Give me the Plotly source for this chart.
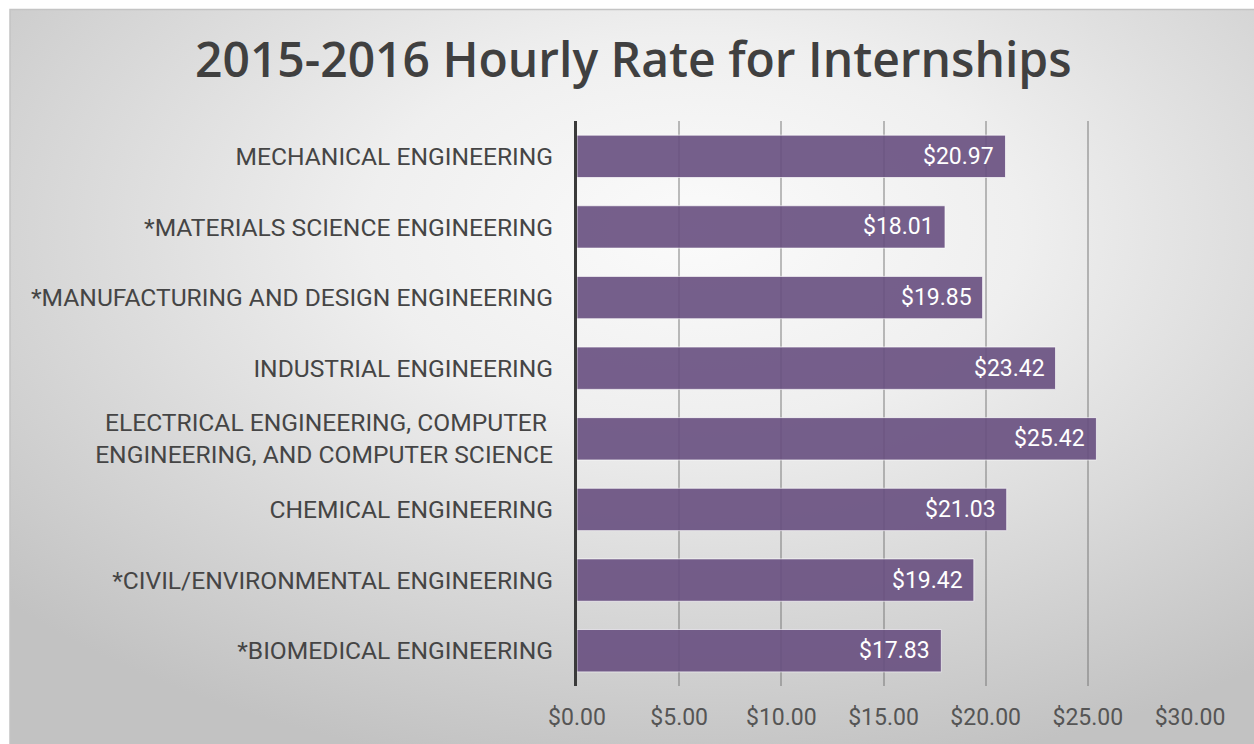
import base64
import plotly.graph_objects as go

categories = [
    "MECHANICAL ENGINEERING",
    "*MATERIALS SCIENCE ENGINEERING",
    "*MANUFACTURING AND DESIGN ENGINEERING",
    "INDUSTRIAL ENGINEERING",
    "ELECTRICAL ENGINEERING, COMPUTER <br>ENGINEERING, AND COMPUTER SCIENCE",
    "CHEMICAL ENGINEERING",
    "*CIVIL/ENVIRONMENTAL ENGINEERING",
    "*BIOMEDICAL ENGINEERING",
]
rates = [20.97, 18.01, 19.85, 23.42, 25.42, 21.03, 19.42, 17.83]
tick_values = [0, 5, 10, 15, 20, 25, 30]
tick_labels = ["$0.00", "$5.00", "$10.00", "$15.00", "$20.00", "$25.00", "$30.00"]

W, H = 1254, 744
ML, MR, MT, MB = 577, 64, 121, 58
pw, ph = W - ML - MR, H - MT - MB

svg = """<svg xmlns='http://www.w3.org/2000/svg' width='1244' height='735' viewBox='0 0 1244 735' preserveAspectRatio='none'>
<defs><radialGradient id='g' cx='0.55' cy='0.3' r='0.75' gradientUnits='objectBoundingBox'>
<stop offset='0' stop-color='#fbfbfb'/><stop offset='0.35' stop-color='#efefef'/><stop offset='1' stop-color='#c2c2c2'/></radialGradient></defs>
<rect width='1244' height='735' fill='url(#g)'/></svg>"""
src = "data:image/svg+xml;base64," + base64.b64encode(svg.encode()).decode()

fig = go.Figure()
fig.add_trace(go.Bar(
    y=categories, x=rates, orientation="h",
    marker=dict(color="#684f80", opacity=0.9,
                line=dict(color="rgba(255,255,255,0.7)", width=1)),
    width=0.6, hoverinfo="skip",
))

for c, v in zip(categories, rates):
    fig.add_annotation(x=v, y=c, text=f"${v:.2f}", showarrow=False,
                       xanchor="right", xshift=-9,
                       font=dict(family="Roboto", size=23, color="white"))

def px_x(p):
    return (p - ML) / pw

def px_y(p):
    return (H - MB - p) / ph

fig.add_layout_image(dict(source=src, xref="paper", yref="paper",
                          x=px_x(10), y=px_y(9), sizex=(W - 10) / pw, sizey=(H - 9) / ph,
                          xanchor="left", yanchor="top", sizing="stretch", layer="below"))
fig.add_shape(type="rect", xref="paper", yref="paper",
              x0=px_x(10), x1=px_x(W + 5), y0=px_y(H + 5), y1=px_y(9.5),
              line=dict(color="#c4c4c4", width=1.5), layer="below")

fig.update_layout(
    width=W, height=H,
    margin=dict(l=ML, r=MR, t=MT, b=MB),
    paper_bgcolor="white", plot_bgcolor="rgba(0,0,0,0)",
    title=dict(text="2015-2016 Hourly Rate for Internships", x=0.505, xanchor="center",
               y=1 - 60 / H, yanchor="middle",
               font=dict(family="Open Sans", size=48, color="#404040", weight=600)),
    showlegend=False,
    bargap=0.4,
)
fig.update_xaxes(range=[0, 30], tickvals=tick_values, ticktext=tick_labels,
                 showgrid=True, gridcolor="rgba(110,110,110,0.45)", gridwidth=1.5,
                 zeroline=False, showline=False, ticks="",
                 tickfont=dict(family="Roboto", size=23, color="#555555"),
                 ticklabelstandoff=15)
fig.update_yaxes(categoryorder="array", categoryarray=categories, autorange="reversed",
                 showline=True, linecolor="#3a3a3a", linewidth=3, showgrid=False,
                 ticks="", tickfont=dict(family="Roboto", size=24.6, color="#454545"),
                 ticklabelstandoff=16)

fig.write_html("out.html", config={"displayModeBar": False},
               post_script="document.body.style.margin='0';")
